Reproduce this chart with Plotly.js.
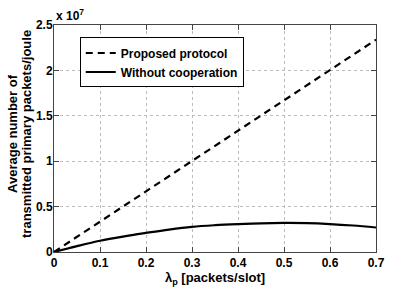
<!DOCTYPE html>
<html>
<head>
<meta charset="utf-8">
<script src="https://cdn.plot.ly/plotly-3.0.1.min.js"></script>
<style>html,body{margin:0;padding:0;background:#fff;}#chart{width:415px;height:296px;}</style>
</head>
<body>
<div id="chart"></div>
<script>
// values in units of 1e7 packets/joule
const lambdaP = [0, 0.05, 0.1, 0.15, 0.2, 0.25, 0.3, 0.35, 0.4, 0.45, 0.5, 0.55, 0.6, 0.65, 0.7];
const proposed = [0, 0.167, 0.334, 0.501, 0.668, 0.835, 1.002, 1.169, 1.336, 1.503, 1.670, 1.837, 2.004, 2.171, 2.338];
const withoutCoop = [0, 0.065, 0.124, 0.17, 0.21, 0.247, 0.277, 0.295, 0.307, 0.316, 0.32, 0.318, 0.308, 0.292, 0.27];
const seriesNames = ["Proposed protocol", "Without cooperation"];
const xTicks = [0, 0.1, 0.2, 0.3, 0.4, 0.5, 0.6, 0.7];
const yTicks = [0, 0.5, 1, 1.5, 2, 2.5];
const yTickText = ["0", "0.5", "1", "1.5", "2", "2.5"];
const yTitleLines = ["Average number of", "transmitted primary packets/joule"];

const fam = "Liberation Sans, Arial, sans-serif";
const font = {family: fam, size: 12, color: "#000", weight: "bold"};
const titleFont = {family: fam, size: 13, color: "#000", weight: "bold"};

const traces = [
  {x: lambdaP, y: proposed, name: seriesNames[0], type: "scatter", mode: "lines",
   line: {color: "#000", width: 2.2, dash: "7px,5px"}},
  {x: lambdaP, y: withoutCoop, name: seriesNames[1], type: "scatter", mode: "lines",
   line: {color: "#000", width: 2.2, shape: "spline", smoothing: 1}}
];

const axisCommon = {
  showline: true, linecolor: "#444", linewidth: 1, mirror: "ticks",
  ticks: "inside", ticklen: 5, tickcolor: "#444",
  showgrid: true, gridcolor: "#bbb", griddash: "dot", gridwidth: 1,
  zeroline: false, tickfont: font
};

const layout = {
  width: 415, height: 296,
  margin: {l: 54, r: 39, t: 25, b: 44},
  paper_bgcolor: "#fff", plot_bgcolor: "#fff",
  font: font,
  showlegend: true,
  legend: {x: 0.08, y: 0.945, xanchor: "left", yanchor: "top",
    bgcolor: "#fff", bordercolor: "#000", borderwidth: 1,
    font: font, tracegroupgap: 0, itemwidth: 30},
  xaxis: Object.assign({}, axisCommon, {
    range: [0, 0.7], tickvals: xTicks, ticktext: xTicks.map(String),
    title: {text: "λ<sub>p</sub> [packets/slot]", font: titleFont, standoff: 3}
  }),
  yaxis: Object.assign({}, axisCommon, {
    range: [0, 2.5], tickvals: yTicks, ticktext: yTickText, ticklabelstandoff: -2
  }),
  annotations: [
    {text: "x 10<sup>7</sup>", xref: "paper", yref: "paper", x: 0.0, y: 1.0,
     xanchor: "left", yanchor: "bottom", showarrow: false,
     font: {family: fam, size: 12, color: "#000", weight: "bold"}},
    {text: yTitleLines[0], xref: "paper", yref: "paper", x: 0, y: 0.52,
     xanchor: "center", yanchor: "middle", xshift: -41, textangle: -90,
     showarrow: false, font: titleFont},
    {text: yTitleLines[1], xref: "paper", yref: "paper", x: 0, y: 0.52,
     xanchor: "center", yanchor: "middle", xshift: -27, textangle: -90,
     showarrow: false, font: titleFont}
  ]
};

Plotly.newPlot("chart", traces, layout, {staticPlot: true, displayModeBar: false});
</script>
</body>
</html>
